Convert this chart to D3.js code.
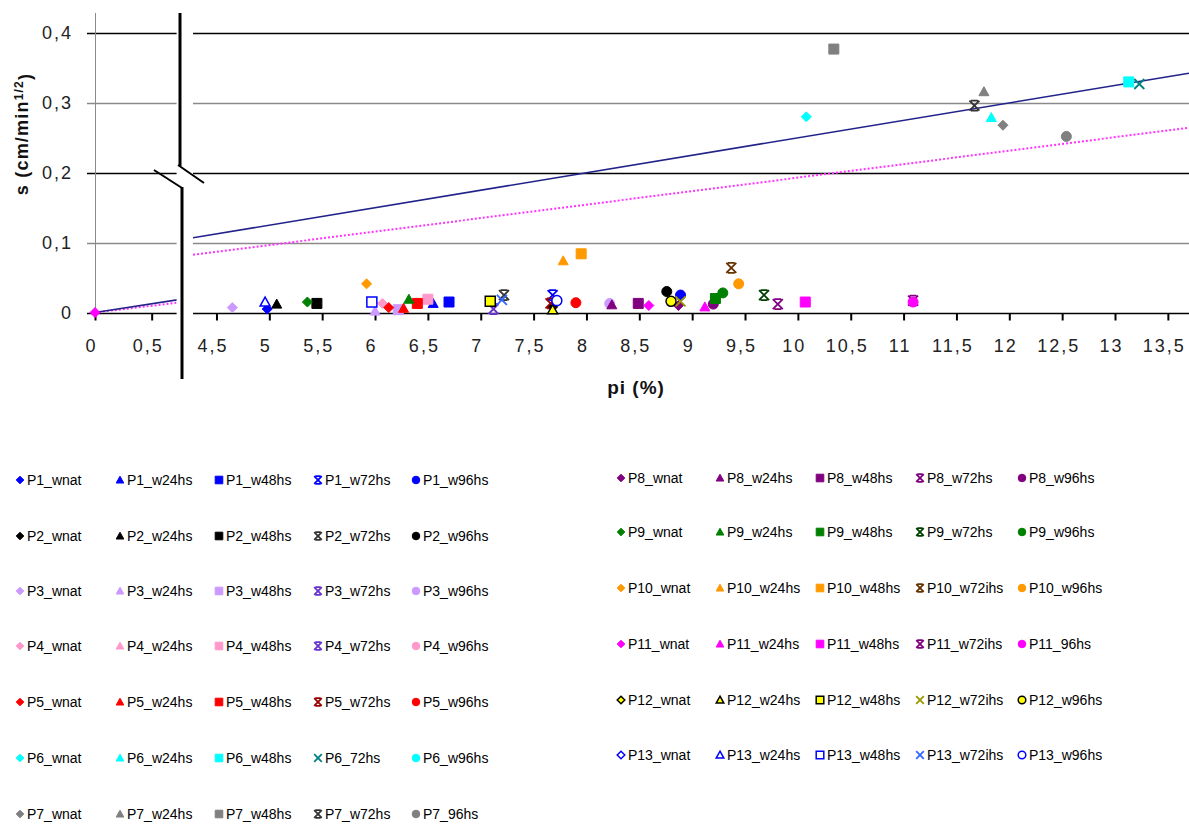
<!DOCTYPE html>
<html>
<head>
<meta charset="utf-8">
<script src="https://cdn.jsdelivr.net/npm/d3@7"></script>
<style>
    body { margin: 0; background: #fff; }
    svg { display: block; font-family: "Liberation Sans", Arial, sans-serif; }
</style>
</head>
<body>
<div id="chart"></div>
<script>
// tick values
const xTicksLeft = [0, 0.5];
const xTicksRight = [4.5, 5, 5.5, 6, 6.5, 7, 7.5, 8, 8.5, 9, 9.5, 10, 10.5, 11, 11.5, 12, 12.5, 13, 13.5];
const yTicks = [0, 0.1, 0.2, 0.3, 0.4];

// trend lines (pi, s) end points
const trendBlue = [[0, 0], [13.7, 0.3425]];
const trendPink = [[0, 0], [13.7, 0.2644]];

// series points: [kind, pi, s]   kind 0 wnat, 1 w24hs, 2 w48hs, 3 w72hs, 4 w96hs
const P1 = [[0, 4.98, 0.005], [1, 6.55, 0.013], [2, 6.70, 0.015], [3, 7.68, 0.025], [4, 8.89, 0.025]];
const P2 = [[0, 7.68, 0.008], [1, 5.07, 0.012], [2, 5.45, 0.013], [3, 7.22, 0.025], [4, 8.76, 0.030]];
const P3 = [[0, 4.65, 0.007], [1, 6.00, 0.002], [2, 6.22, 0.004], [3, 7.12, 0.005], [4, 8.22, 0.013]];
const P4 = [[0, 6.07, 0.013], [2, 6.50, 0.019]];
const P5 = [[0, 6.13, 0.007], [1, 6.27, 0.006], [2, 6.40, 0.013], [3, 7.66, 0.013], [4, 7.90, 0.014]];
const P6 = [[0, 10.08, 0.280], [1, 11.83, 0.279], [2, 13.13, 0.330], [3, 13.23, 0.327]];
const P7 = [[0, 11.94, 0.268], [1, 11.76, 0.316], [2, 10.34, 0.377], [3, 11.67, 0.296], [4, 12.54, 0.252]];
const P8 = [[0, 8.87, 0.010], [1, 8.24, 0.011], [2, 8.49, 0.013], [3, 9.81, 0.012], [4, 9.20, 0.012]];
const P9 = [[0, 5.36, 0.015], [1, 6.32, 0.019], [2, 9.22, 0.020], [3, 9.68, 0.025], [4, 9.29, 0.028]];
const P10 = [[0, 5.92, 0.041], [1, 7.78, 0.074], [2, 7.95, 0.084], [3, 9.37, 0.064], [4, 9.44, 0.041]];
const P11 = [[0, 0, 0], [0, 8.59, 0.010], [1, 9.12, 0.008], [2, 10.07, 0.015], [3, 11.09, 0.017], [4, 11.09, 0.015]];
const P12 = [[1, 7.68, 0.004], [2, 7.09, 0.016], [3, 8.89, 0.016], [4, 8.80, 0.016]];
const P13 = [[1, 4.96, 0.015], [2, 5.97, 0.015], [3, 7.20, 0.018], [4, 7.72, 0.017]];
const seriesData = [P1, P2, P3, P4, P5, P6, P7, P8, P9, P10, P11, P12, P13];

// legend labels
const legendLabels = [
    ["P1_wnat", "P1_w24hs", "P1_w48hs", "P1_w72hs", "P1_w96hs"],
    ["P2_wnat", "P2_w24hs", "P2_w48hs", "P2_w72hs", "P2_w96hs"],
    ["P3_wnat", "P3_w24hs", "P3_w48hs", "P3_w72hs", "P3_w96hs"],
    ["P4_wnat", "P4_w24hs", "P4_w48hs", "P4_w72hs", "P4_w96hs"],
    ["P5_wnat", "P5_w24hs", "P5_w48hs", "P5_w72hs", "P5_w96hs"],
    ["P6_wnat", "P6_w24hs", "P6_w48hs", "P6_72hs", "P6_w96hs"],
    ["P7_wnat", "P7_w24hs", "P7_w48hs", "P7_w72hs", "P7_96hs"],
    ["P8_wnat", "P8_w24hs", "P8_w48hs", "P8_w72hs", "P8_w96hs"],
    ["P9_wnat", "P9_w24hs", "P9_w48hs", "P9_w72hs", "P9_w96hs"],
    ["P10_wnat", "P10_w24hs", "P10_w48hs", "P10_w72ihs", "P10_w96hs"],
    ["P11_wnat", "P11_w24hs", "P11_w48hs", "P11_w72ihs", "P11_96hs"],
    ["P12_wnat", "P12_w24hs", "P12_w48hs", "P12_w72ihs", "P12_w96hs"],
    ["P13_wnat", "P13_w24hs", "P13_w48hs", "P13_w72ihs", "P13_w96hs"]
];

// series styles
const fills = ["#0000ff", "#000000", "#cc99ff", "#ff99cc", "#ff0000", "#00ffff", "#808080",
    "#800080", "#008000", "#ff9900", "#ff00ff", "#ffff00", "#ffffff"];
const strokes = ["#0000ff", "#000000", "#cc99ff", "#ff99cc", "#ff0000", "#00ffff", "#808080",
    "#800080", "#008000", "#ff9900", "#ff00ff", "#000000", "#0000ff"];
const xStroke = ["#0000ff", "#333333", "#6633cc", "#6633cc", "#990000", "#008080", "#333333",
    "#800080", "#004000", "#663300", "#800080", "#999900", "#3366ff"];

const W = 1189, H = 825;

const svg = d3.select("#chart").append("svg")
    .attr("width", W)
    .attr("height", H);

const xL = d3.scaleLinear().domain([0, 0.72]).range([95, 176.6]);
const xR = d3.scaleLinear().domain([4.278, 13.70]).range([193, 1189]);
const y = d3.scaleLinear().domain([0, 0.4]).range([312.5, 33]);
const xOf = (v) => v < 2 ? xL(v) : xR(v);

const fmt = d3.formatLocale({ decimal: ",", thousands: ".", grouping: [3], currency: ["", ""] }).format("~g");

// gridlines
const grid = svg.append("g");
yTicks.forEach((t, i) => {
    const c = (i % 2 == 0) ? "#000" : "#8a8a8a";
    grid.append("line")
        .attr("x1", 87).attr("x2", xL(0.72))
        .attr("y1", Math.round(y(t)) + 0.5).attr("y2", Math.round(y(t)) + 0.5)
        .style("stroke", c).style("stroke-width", 1.6);
    grid.append("line")
        .attr("x1", 193).attr("x2", W)
        .attr("y1", Math.round(y(t)) + 0.5).attr("y2", Math.round(y(t)) + 0.5)
        .style("stroke", c).style("stroke-width", 1.6);
});

// y axis line (grey)
svg.append("line")
    .attr("x1", 95.5).attr("x2", 95.5)
    .attr("y1", 13).attr("y2", y(0))
    .style("stroke", "#8a8a8a").style("stroke-width", 1);

// y tick labels
svg.append("g").selectAll("text")
    .data(yTicks)
    .join("text")
    .attr("x", 73)
    .attr("y", (d) => y(d))
    .attr("dy", "0.36em")
    .attr("text-anchor", "end")
    .style("font-size", "18px")
    .style("letter-spacing", "2px")
    .style("fill", "#222")
    .text((d) => fmt(d));

// x axes
const drawX = (scale, ticks) => {
    const g = svg.append("g")
        .attr("transform", "translate(0," + (Math.round(y(0)) + 0.5) + ")")
        .call(d3.axisBottom(scale).tickValues(ticks).tickSize(7).tickPadding(19).tickFormat(fmt));
    g.select(".domain").remove();
    g.selectAll(".tick line").style("stroke", "#000").style("stroke-width", 2);
    g.selectAll(".tick text")
        .attr("dx", -4)
        .style("font-size", "18px")
        .style("letter-spacing", "2px")
        .style("font-family", "'Liberation Sans', Arial, sans-serif")
        .style("fill", "#222");
    return g;
};
drawX(xL, xTicksLeft);
drawX(xR, xTicksRight);

// trend lines
svg.append("clipPath").attr("id", "clipL")
    .append("rect").attr("x", 95).attr("y", 0).attr("width", xL(0.72) - 95).attr("height", 320);
svg.append("clipPath").attr("id", "clipR")
    .append("rect").attr("x", 193).attr("y", 0).attr("width", W - 193).attr("height", 320);

const drawTrend = (pts, color, width, dash) => {
    const lineL = d3.line().x((d) => xL(d[0])).y((d) => y(d[1]));
    const lineR = d3.line().x((d) => xR(d[0])).y((d) => y(d[1]));
    svg.append("path").attr("d", lineL(pts)).attr("clip-path", "url(#clipL)")
        .style("fill", "none").style("stroke", color).style("stroke-width", width)
        .style("stroke-dasharray", dash);
    svg.append("path").attr("d", lineR(pts)).attr("clip-path", "url(#clipR)")
        .style("fill", "none").style("stroke", color).style("stroke-width", width)
        .style("stroke-dasharray", dash);
};
drawTrend(trendPink, "#ff33ff", 2, "2,2");
drawTrend(trendBlue, "#22228a", 1.6, null);

// marker shapes
const markerPath = (kind, s, series) => {
    if (kind == 0) return `M0,${-s}L${s},0L0,${s}L${-s},0Z`;
    if (kind == 1) return `M0,${-s}L${s},${s * 0.8}L${-s},${s * 0.8}Z`;
    if (kind == 2) return `M${-s},${-s}L${s},${-s}L${s},${s}L${-s},${s}Z`;
    if (kind == 3) {
        if (series == 5 || series == 11 || series == 12)
            return `M${-s},${-s}L${s},${s}M${s},${-s}L${-s},${s}`;
        return `M${-s},${-s}L${s},${s}M${s},${-s}L${-s},${s}M${-s * 0.7},${-s}L${s * 0.7},${-s}M${-s * 0.7},${s}L${s * 0.7},${s}`;
    }
    return d3.symbol(d3.symbolCircle, Math.PI * s * s)();
};

const styleMarker = (sel, kind, si) => {
    if (kind == 3) {
        sel.style("fill", "none").style("stroke", xStroke[si]).style("stroke-width", 1.8);
    } else if (si == 11) {
        sel.style("fill", fills[si]).style("stroke", "#000").style("stroke-width", 1.5);
    } else if (si == 12) {
        sel.style("fill", "#fff").style("stroke", strokes[si]).style("stroke-width", 1.5);
    } else {
        sel.style("fill", fills[si]).style("stroke", strokes[si]).style("stroke-width", 1);
    }
};

// points
const pts = svg.append("g");
seriesData.forEach((data, si) => {
    data.forEach((p) => {
        const m = pts.append("path")
            .attr("d", markerPath(p[0], 5, si))
            .attr("transform", "translate(" + xOf(p[1]) + "," + y(p[2]) + ")");
        styleMarker(m, p[0], si);
    });
});

// axis break
const brk = svg.append("g").style("stroke", "#000").style("fill", "none");
brk.append("path").attr("d", "M180,13L180,166").style("stroke-width", 3);
brk.append("path").attr("d", "M182,187L182,379").style("stroke-width", 3);
brk.append("path").attr("d", "M178,165L204,183").style("stroke-width", 2);
brk.append("path").attr("d", "M154,170L182,188").style("stroke-width", 2);

// axis titles
const yTitle = svg.append("text")
    .attr("transform", "translate(28,134) rotate(-90)")
    .attr("text-anchor", "middle")
    .style("font-size", "18px")
    .style("font-weight", "bold")
    .style("letter-spacing", "1.2px")
    .style("fill", "#111");
yTitle.append("tspan").text("s (cm/min");
yTitle.append("tspan").attr("dy", "-0.45em").style("font-size", "12px").text("1/2");
yTitle.append("tspan").attr("dy", "0.45em").text(")");

svg.append("text")
    .attr("x", 636).attr("y", 394)
    .attr("text-anchor", "middle")
    .style("font-size", "19px")
    .style("font-weight", "bold")
    .style("letter-spacing", "1px")
    .style("fill", "#111")
    .text("pi (%)");

// legend
const legLeftX = [20, 120, 219, 318, 416];
const legRightX = [621, 720, 820, 920, 1022];
const legRowsLeft = [480, 536, 591, 646, 702, 758, 814];
const legRowsRight = [478, 532, 588, 644, 700, 755];

const leg = svg.append("g");
legendLabels.forEach((labels, si) => {
    const left = si < 7;
    const cols = left ? legLeftX : legRightX;
    const ry = left ? legRowsLeft[si] : legRowsRight[si - 7];
    labels.forEach((lab, k) => {
        const m = leg.append("path")
            .attr("d", markerPath(k, 3.8, si))
            .attr("transform", "translate(" + cols[k] + "," + ry + ")");
        styleMarker(m, k, si);
        leg.append("text")
            .attr("x", cols[k] + 7)
            .attr("y", ry)
            .attr("dy", "0.36em")
            .style("font-size", "14px")
            .style("fill", "#000")
            .text(lab);
    });
});
</script>
</body>
</html>
